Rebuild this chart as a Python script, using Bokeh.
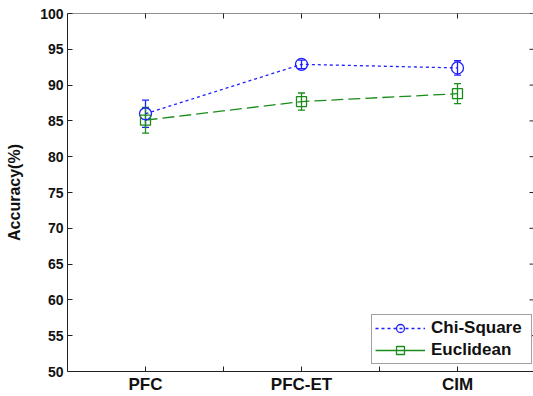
import math
from bokeh.plotting import figure
from bokeh.models import (ColumnDataSource, Range1d, FixedTicker, Whisker,
                          TeeHead, Legend, LegendItem, Span)
from bokeh.embed import file_html
from bokeh.resources import INLINE

categories = ["PFC", "PFC-ET", "CIM"]
xpos = [1, 2, 3]
chi_vals = [86.0, 92.9, 92.4]
chi_err = [1.9, 0.6, 1.0]
euc_vals = [85.1, 87.7, 88.8]
euc_err = [1.8, 1.2, 1.4]
x_ticks = [1, 1.5, 2, 2.5, 3]
y_ticks = list(range(50, 101, 5))

BLUE = "#1f1fff"
GREEN = "#1a8c1a"
AXC = "#222222"
FONT = "Liberation Sans"

X0, X1 = 0.5, 0.5 + 466 / 156
Y0, Y1 = 50, 100

p = figure(width=533, height=396, output_backend="svg", toolbar_location=None,
           x_range=Range1d(X0, X1), y_range=Range1d(Y0, Y1),
           min_border_left=67, min_border_right=0, min_border_top=13, min_border_bottom=23)
p.outline_line_color = None
p.grid.visible = False
p.background_fill_color = "white"

xt = FixedTicker(ticks=x_ticks, minor_ticks=[])
yt = FixedTicker(ticks=y_ticks, minor_ticks=[])
overrides = {1: categories[0], 1.5: "", 2: categories[1], 2.5: "", 3: categories[2]}

xa = p.xaxis[0]
xa.ticker = xt
xa.major_label_overrides = overrides
ya = p.yaxis[0]
ya.ticker = yt
ya.axis_label = "Accuracy(%)"
ya.axis_label_standoff = 14
ya.axis_label_text_font = FONT
ya.axis_label_text_font_style = "bold"
ya.axis_label_text_font_size = "16px"
ya.axis_label_text_color = "#111111"

for ax, size, standoff in ((xa, "17px", 3), (ya, "14px", 4)):
    ax.major_tick_in = 5
    ax.major_tick_out = 0
    ax.minor_tick_in = 0
    ax.minor_tick_out = 0
    ax.axis_line_color = AXC
    ax.major_tick_line_color = AXC
    ax.major_label_text_font = FONT
    ax.major_label_text_font_style = "bold"
    ax.major_label_text_font_size = size
    ax.major_label_text_color = "#111111"
    ax.major_label_standoff = standoff

# top frame line and inward ticks on the top and right edges (clipped to the frame)
p.add_layout(Span(location=Y1, dimension="width", line_color=AXC, line_width=1))
p.scatter(x=x_ticks, y=[Y1] * len(x_ticks), marker="dash", angle=math.pi / 2, size=10,
          line_color=AXC, line_width=1)
p.scatter(x=[X1] * len(y_ticks), y=y_ticks, marker="dash", size=8,
          line_color=AXC, line_width=1)

chi_src = ColumnDataSource(dict(x=xpos, y=chi_vals,
                                upper=[v + e for v, e in zip(chi_vals, chi_err)],
                                lower=[v - e for v, e in zip(chi_vals, chi_err)]))
euc_src = ColumnDataSource(dict(x=xpos, y=euc_vals,
                                upper=[v + e for v, e in zip(euc_vals, euc_err)],
                                lower=[v - e for v, e in zip(euc_vals, euc_err)]))

chi_line = p.line("x", "y", source=chi_src, line_color=BLUE, line_width=1.3, line_dash="3 3")
euc_line = p.line("x", "y", source=euc_src, line_color=GREEN, line_width=1.3, line_dash="12 5")

for src, col in ((chi_src, BLUE), (euc_src, GREEN)):
    w = Whisker(source=src, base="x", upper="upper", lower="lower", line_color=col,
                line_width=1.3,
                upper_head=TeeHead(size=7, line_color=col, line_width=1.3),
                lower_head=TeeHead(size=7, line_color=col, line_width=1.3))
    p.add_layout(w)

chi_pts = p.scatter("x", "y", source=chi_src, marker="circle", size=12, fill_color=None,
                    line_color=BLUE, line_width=1.3)
euc_pts = p.scatter("x", "y", source=euc_src, marker="square", size=10, fill_color=None,
                    line_color=GREEN, line_width=1.3)

# solid line for the legend entry only
euc_leg = p.line(x=[float("nan")], y=[float("nan")], line_color=GREEN, line_width=1.3)

legend = Legend(items=[LegendItem(label="Chi-Square", renderers=[chi_line, chi_pts]),
                       LegendItem(label="Euclidean", renderers=[euc_leg, euc_pts])],
                location=(304, 7), orientation="vertical")
legend.label_text_font = FONT
legend.label_text_font_style = "bold"
legend.label_text_font_size = "17px"
legend.label_text_color = "#111111"
legend.glyph_width = 50
legend.glyph_height = 20
legend.label_width = 97
legend.spacing = 2
legend.padding = 3
legend.margin = 0
legend.label_standoff = 6
legend.border_line_color = "#444444"
legend.border_line_width = 1.5
legend.background_fill_color = "white"
legend.background_fill_alpha = 1.0
p.add_layout(legend, "center")

open("out.html", "w").write(file_html(p, INLINE))
